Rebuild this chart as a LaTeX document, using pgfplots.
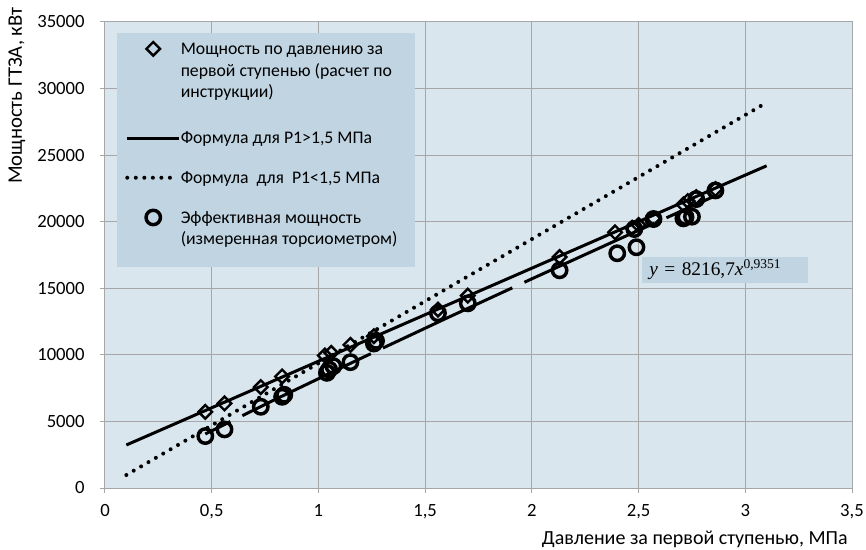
\documentclass[border=0pt]{standalone}
\usepackage{pgfplots}
\pgfplotsset{compat=1.18}
\usepackage{fontspec}
\setmainfont{Carlito}
\newfontfamily\timesf{Liberation Serif}
\definecolor{plotbg}{RGB}{218,230,238}
\definecolor{lgfill}{RGB}{192,212,226}
\definecolor{gridc}{RGB}{166,166,166}
\pgfplotsset{
  markleg/.style={legend image code/.code={%
    \coordinate (lgA) at (0pt,4.2pt);
    \coordinate (lgB) at (39pt,4.2pt);
    \draw[##1, only marks] plot coordinates {(19.5pt,4.2pt)};}},
  lineleg/.style={legend image code/.code={%
    \draw[##1] (0pt,4.2pt) -- (39pt,4.2pt);}},
  dotleg/.style={legend image code/.code={%
    \coordinate (lgA) at (0pt,4.2pt);
    \coordinate (lgB) at (39pt,4.2pt);
    \draw[##1] (0pt,4.2pt) -- (33pt,4.2pt);}},
}
\newcommand\legc[1]{\begin{tabular}[t]{@{}l@{}}#1\end{tabular}}
\begin{document}
\begin{tikzpicture}
\begin{axis}[
  at={(0,0)}, anchor=south west,
  scale only axis, width=560.25pt, height=349.5pt,
  xmin=0, xmax=3.5, ymin=0, ymax=35000,
  xtick={0,0.5,1,1.5,2,2.5,3,3.5},
  ytick={0,5000,10000,15000,20000,25000,30000,35000},
  grid=major, grid style={gridc, line width=0.75pt},
  axis line style={gridc, line width=0.75pt},
  tick style={gridc, line width=0.75pt},
  tick align=outside, major tick length=3.75pt,
  xtick pos=bottom, ytick pos=left,
  axis background/.style={fill=plotbg},
  /pgf/number format/assume math mode=true,
  /pgf/number format/use comma,
  /pgf/number format/1000 sep={},
  scaled y ticks=false,
  ticklabel style={font=\fontsize{14}{16}\selectfont, text=black},
  yticklabel style={xshift=-8pt},
  xticklabel style={yshift=-5pt},
  legend style={at={(0.02677,0.9637)}, anchor=north west, draw=none, fill=none,
    inner sep=0pt, row sep=13.5pt, column sep=0pt,
    nodes={inner sep=0pt, text depth=, font=\fontsize{13.3}{16.3}\selectfont},
    cells={anchor=base west}},
]
\fill[lgfill] (axis description cs:0.01606,0.47425) rectangle (axis description cs:0.41499,0.97639);

% diamonds: power by pressure after first stage (calculated by instruction)
\addplot[only marks, mark=square, mark size=3.6pt, mark options={rotate=45, line width=1.8pt, draw=black, fill=none}, markleg]
coordinates {(0.47,5720)(0.56,6350)(0.73,7580)(0.83,8380)(1.03,9950)(1.06,10150)(1.15,10750)(1.26,11400)(1.56,13400)(1.70,14450)(2.13,17350)(2.39,19200)(2.47,19550)(2.50,19750)(2.57,20250)(2.71,21300)(2.73,21550)(2.77,21850)(2.86,22450)};
\addlegendentry{\legc{Мощность по давлению за\\первой ступенью (расчет по\\инструкции)\rule[-9.4pt]{0pt}{0pt}}}

% formula P1>1.5
\addplot[black, line width=2.25pt, lineleg] coordinates {(0.1,3230)(3.1,24200)};
\addlegendentry{\legc{Формула для P1>1,5 МПа}}

% formula P1<1.5
\addplot[black, line width=3pt, line cap=round, dash pattern=on 0pt off 6.4pt, dotleg] coordinates {(0.1,976)(3.1,28950)};
\addlegendentry{\legc{Формула\ \ для\ \ P1<1,5 МПа}}

% trend of effective power
\addplot[black, line width=2.25pt, dash pattern=on 107pt off 10pt, dash phase=86pt, forget plot] coordinates {(0.47,4056)(0.8,6670)(1.2,9744)(1.6,12752)(2.0,15711)(2.4,18631)(2.86,21950)};

% circles: effective power (measured by torsiometer)
\addplot[only marks, mark=o, mark size=5.4pt, mark options={line width=2.6pt, draw=black, fill=none}, markleg]
coordinates {(0.47,3900)(0.56,4400)(0.73,6100)(0.83,6850)(0.84,7000)(1.04,8650)(1.05,8900)(1.07,9150)(1.15,9450)(1.26,10850)(1.27,11050)(1.56,13120)(1.70,13870)(2.13,16350)(2.40,17630)(2.49,18080)(2.48,19450)(2.57,20200)(2.71,20250)(2.72,20350)(2.75,20380)(2.77,21700)(2.86,22350)};
\addlegendentry{\legc{Эффективная мощность\\(измеренная торсиометром)}}

\node[fill=lgfill, anchor=south west, minimum width=124.5pt, minimum height=19.5pt, inner xsep=5.5pt, inner ysep=0pt, text width=113.5pt, align=left, font={\timesf\fontsize{14.5}{16}\selectfont}] at (axis cs:2.515,15396) {\textit{y} = 8216,7\textit{x}\textsuperscript{0,9351}};
\end{axis}
\node[rotate=90, anchor=east, font=\fontsize{15.5}{18}\selectfont] at (-66pt,364pt) {Мощность ГТЗА, кВт};
\node[anchor=base east, font=\fontsize{15}{18}\selectfont] at (560.5pt,-42pt) {Давление за первой ступенью, МПа};
\pgfresetboundingbox
\path (-78.75pt,-45.75pt) rectangle (570.75pt,366pt);
\end{tikzpicture}
\end{document}
